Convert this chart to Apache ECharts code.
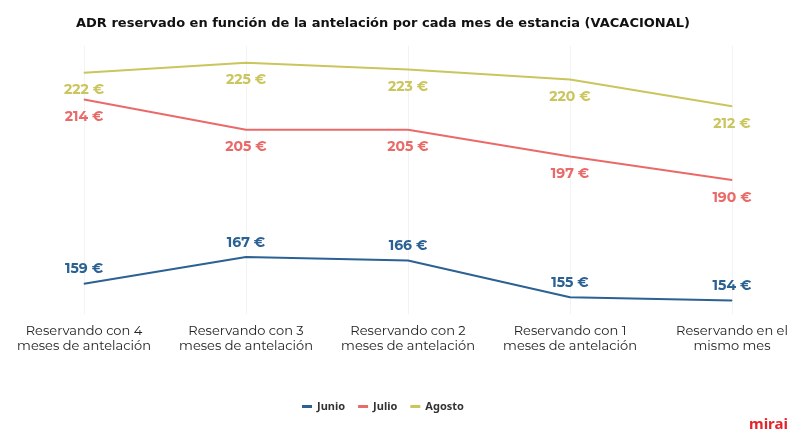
<!DOCTYPE html>
<html><head><meta charset="utf-8">
<script src="https://cdn.jsdelivr.net/npm/echarts@6/dist/echarts.min.js"></script>
<style>html,body{margin:0;padding:0;background:#fff}#c{width:800px;height:448px}</style>
</head><body><div id="c"></div>
<script>
const categories = ["Reservando con 4\nmeses de antelación","Reservando con 3\nmeses de antelación","Reservando con 2\nmeses de antelación","Reservando con 1\nmeses de antelación","Reservando en el\nmismo mes"];
const junio = [159,167,166,155,154];
const julio = [214,205,205,197,190];
const agosto = [222,225,223,220,212];
const chart = echarts.init(document.getElementById('c'));
const lbl = (pos,color,dist)=>({show:true,opacity:1,position:pos,distance:dist,formatter:p=>p.value+' €',color:color,fontFamily:'Montserrat, "Noto Sans", sans-serif',fontWeight:'bold',fontSize:14});
const ser = (name,data,color,pos,dist)=>({name:name,type:'line',data:data,symbol:'circle',symbolSize:1,showSymbol:true,
  lineStyle:{width:2,color:color},itemStyle:{color:color},label:lbl(pos,color,dist)});
chart.setOption({
  animation:false,
  title:{text:'ADR reservado en función de la antelación por cada mes de estancia (VACACIONAL)',left:378,textAlign:'center',top:12,textStyle:{fontFamily:'"DejaVu Sans", Verdana, sans-serif',fontWeight:'bold',fontSize:13,color:'#111'}},
  legend:{bottom:31,left:297,icon:'rect',itemWidth:10,itemHeight:3,itemGap:13,textStyle:{fontFamily:'"Noto Sans", sans-serif',fontWeight:'bold',fontSize:11,color:'#333'}},
  grid:{left:84,right:68,top:46,bottom:134},
  xAxis:{type:'category',data:categories,boundaryGap:false,axisLine:{show:false},axisTick:{show:false},
    splitLine:{show:true,lineStyle:{color:'#f3f3f3',width:1}},
    axisLabel:{interval:0,margin:10,color:'#222',fontSize:13,lineHeight:15,fontFamily:'Montserrat, "Noto Sans", sans-serif'}},
  yAxis:{type:'value',min:150,max:230,show:false},
  series:[
    ser('Junio',junio,'#2b6193','top',7),
    ser('Julio',julio,'#ea6a69','bottom',10),
    ser('Agosto',agosto,'#cbc55e','bottom',10)
  ],
  graphic:[{type:'text',right:12,top:417,style:{text:'mirai',fill:'#e3242b',font:'bold 15px "Noto Sans", sans-serif'}}]
});
</script></body></html>
